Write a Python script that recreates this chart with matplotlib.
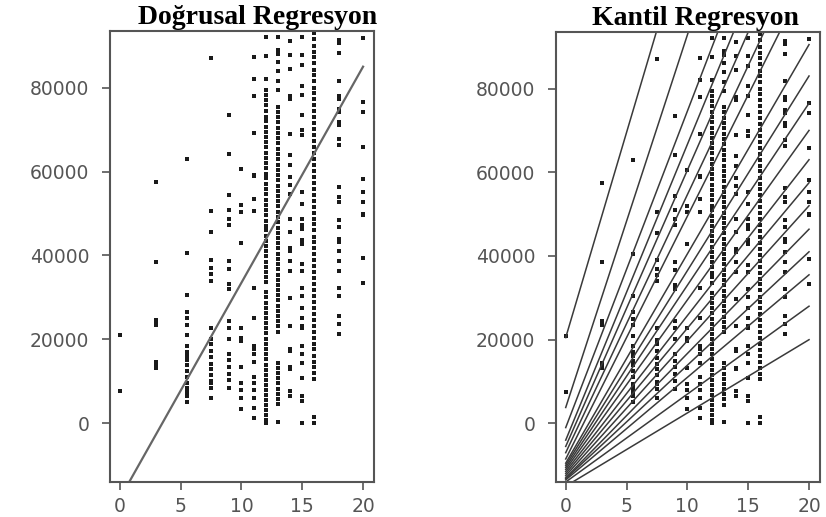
"""
plot.py
Education years vs income: OLS line (left) and quantile regression lines (right)
"""

import numpy as np
import matplotlib
matplotlib.use('Agg')
import matplotlib.pyplot as plt

# income values (thousands) observed at each education level
inc_0 = [21, 7.6]
inc_3 = [57.5, 38.5, 24.5, 24, 23.5, 14.5, 14, 13.2]
inc_5 = [63, 40.5, 30.5, 26.5, 25, 23.5, 21, 18.5, 17, 16, 15, 14, 12.5,
         11, 9.5, 8.5, 7.5, 6.5, 5]
inc_7 = [87, 50.5, 45.5, 39, 37, 35.5, 34, 22.8, 20, 19, 17.3, 15.7, 14.2,
         13, 11.5, 10, 9.5, 8.3, 6]
inc_9 = [73.4, 64.2, 54.4, 50.9, 48.8, 47.3, 38.6, 36.7, 33.1, 32, 24.4, 22.7,
         20.1, 16.5, 15, 13.5, 11.8, 10.2, 8.3]
inc_10 = [60.6, 52, 50.4, 42.9, 22.8, 20.4, 19.6, 13.3, 9.5, 8, 6, 3.5]
inc_11 = [87.3, 82, 77.9, 69.1, 59.2, 58.9, 53.5, 50.6, 32.3, 25.2, 18.5, 17.7,
          16.5, 14.5, 11, 9.5, 8, 6, 3.6, 1.2]
inc_12 = [92, 87.5, 82, 79.5, 78.2, 77, 75.8, 74.5, 73.1, 72, 70.6, 69.5, 68.2,
          67, 65.9, 64.5, 63.2, 62, 60.8, 59.5, 58.4, 57, 55.8, 54.6, 53.3, 52,
          50.9, 49.6, 48.3, 47.1, 46, 44.7, 43.5, 42.2, 41, 39.8, 38.5, 37.3,
          36, 34.9, 33.6, 31.2, 30, 28.7, 27.5, 26.3, 25, 23.8, 22.6, 21.4,
          20.1, 19, 17.7, 16.5, 15.3, 14, 12.8, 11.6, 10.4, 9.2, 8, 6.8, 5.6,
          4.4, 3.2, 2, 0.8, 0]
inc_13 = [92, 89, 88, 86, 84, 81.5, 79.5, 75.5, 74.3, 73, 71.8, 70.5, 69.2, 68,
          66.7, 65.4, 64.2, 63, 61.6, 60.4, 59.2, 58, 56.6, 55.4, 54.1, 52.9,
          51.7, 50.3, 49.1, 47.9, 46.6, 45.4, 44.1, 42.9, 41.7, 40.4, 39.2, 38,
          36.7, 35.4, 34.2, 33, 31.7, 30.5, 29.3, 28, 26.8, 25.5, 24.3, 23.1,
          21.8, 14.4, 13.2, 11.9, 10.7, 9.5, 8.2, 7, 5.8, 4.5, 0.3]
inc_14 = [91.1, 87.8, 84.5, 78.1, 77.2, 68.9, 63.9, 61.5, 58.7, 56.8, 54.7,
          48.8, 45.7, 41.7, 41, 38.6, 36.2, 29.8, 23.2, 17.7, 17.3, 13.3, 13,
          7.8, 6.6]
inc_15 = [92.1, 87.8, 85.4, 80.5, 78.3, 73.6, 69.8, 68.6, 55.2, 52.3, 48.8,
          47.3, 46.4, 43.8, 42.8, 37.9, 36.2, 32.2, 30.3, 27.5, 25.1, 23.2,
          22.7, 18.5, 16.6, 14.4, 10.9, 6.6, 5.4, 0]
inc_16 = [93, 91.5, 90, 88.6, 87.2, 85.8, 84.3, 83, 81.5, 80, 78.7, 77.2, 75.8,
          74.4, 73, 71.5, 70.1, 68.7, 67.3, 65.9, 64.4, 63, 61.6, 60.2, 58.7,
          57.3, 55.9, 54.5, 53.1, 51.6, 50.2, 48.8, 47.4, 46, 44.5, 43.1, 41.7,
          40.3, 38.9, 37.4, 36, 34.6, 33.2, 31.8, 30.3, 28.9, 27.5, 26.1, 24.7,
          23.2, 21.8, 20.4, 19, 17.6, 16.1, 14.7, 13.3, 11.9, 10.5, 1.5, 0]
inc_18 = [91.3, 90.6, 88.3, 81.7, 78.1, 77.2, 74.8, 74.1, 71.7, 71, 67.7, 66.3,
          56.3, 54, 52.8, 48.5, 46.9, 44, 43.3, 41, 38.6, 36.2, 32.2, 30.3,
          25.6, 23.7, 21.3]
inc_20 = [91.8, 76.5, 74.1, 65.8, 58.2, 55.2, 52.8, 50, 49.7, 39.3, 33.4]

educ_levels = [0, 3, 5.5, 7.5, 9, 10, 11, 12, 13, 14, 15, 16, 18, 20]
income_cols = [inc_0, inc_3, inc_5, inc_7, inc_9, inc_10, inc_11, inc_12,
               inc_13, inc_14, inc_15, inc_16, inc_18, inc_20]

# OLS fit (intercept, slope)
ols_coef = (-18000, 5150)

# quantile fits, tau = 0.05 ... 0.95
qr_intercepts = [-15000, -14000, -13500, -13200, -13000, -12500, -12000,
                 -11500, -11000, -10500, -10000, -9500, -8500, -7000, -5500,
                 -4000, -1000, 3800, 20500]
qr_slopes = [1750, 2100, 2450, 2710, 2970, 3225, 3475, 3725, 4050, 4350,
             4650, 5000, 5800, 6165, 6600, 7065, 7560, 8900, 9800]

x_ticks = [0, 5, 10, 15, 20]
y_ticks = [0, 20000, 40000, 60000, 80000]

# flatten into point arrays
x = np.concatenate([[lv] * len(c) for lv, c in zip(educ_levels, income_cols)])
y = np.concatenate([np.array(c) * 1000 for c in income_cols])

# fitted lines are drawn over the observed range of x
x_fit = np.array([min(educ_levels), max(educ_levels)])

fig = plt.figure(figsize=(8.26, 5.17), dpi=100)
ax1 = fig.add_axes([0.1332, 0.0677, 0.3196, 0.8723])
ax2 = fig.add_axes([0.6731, 0.0677, 0.3196, 0.8703])

edge = '#555555'
for ax in (ax1, ax2):
    ax.scatter(x, y, s=7, marker='s', color='#1a1a1a', linewidths=0)
    ax.set_xlim(-0.8, 20.9)
    ax.set_ylim(-14000, 93500)
    ax.set_xticks(x_ticks)
    ax.set_xticklabels([str(t) for t in x_ticks])
    ax.set_yticks(y_ticks)
    ax.set_yticklabels([str(t) for t in y_ticks])
    for sp in ax.spines.values():
        sp.set_color(edge)
        sp.set_linewidth(1.5)
    ax.tick_params(axis='both', direction='out', length=6, width=1.2,
                   color=edge, labelcolor='#555555', labelsize=13.5)
    ax.tick_params(axis='y', pad=9)
    ax.tick_params(axis='x', pad=5)
    for lab in ax.get_xticklabels() + ax.get_yticklabels():
        lab.set_family('DejaVu Sans')

# left: ordinary least squares
ax1.plot(x_fit, ols_coef[0] + ols_coef[1] * x_fit, color='#666666',
         linewidth=1.6)

# right: one line per quantile
for b, m in zip(qr_intercepts, qr_slopes):
    ax2.plot(x_fit, b + m * x_fit, color='#3a3a3a', linewidth=1.1)

title_font = dict(family='Liberation Serif', weight='bold', size=20)
ax1.set_title('Doğrusal Regresyon', x=0.557, pad=5, **title_font)
ax2.set_title('Kantil Regresyon', x=0.527, pad=5, **title_font)

plt.savefig('out.png', dpi=100)
